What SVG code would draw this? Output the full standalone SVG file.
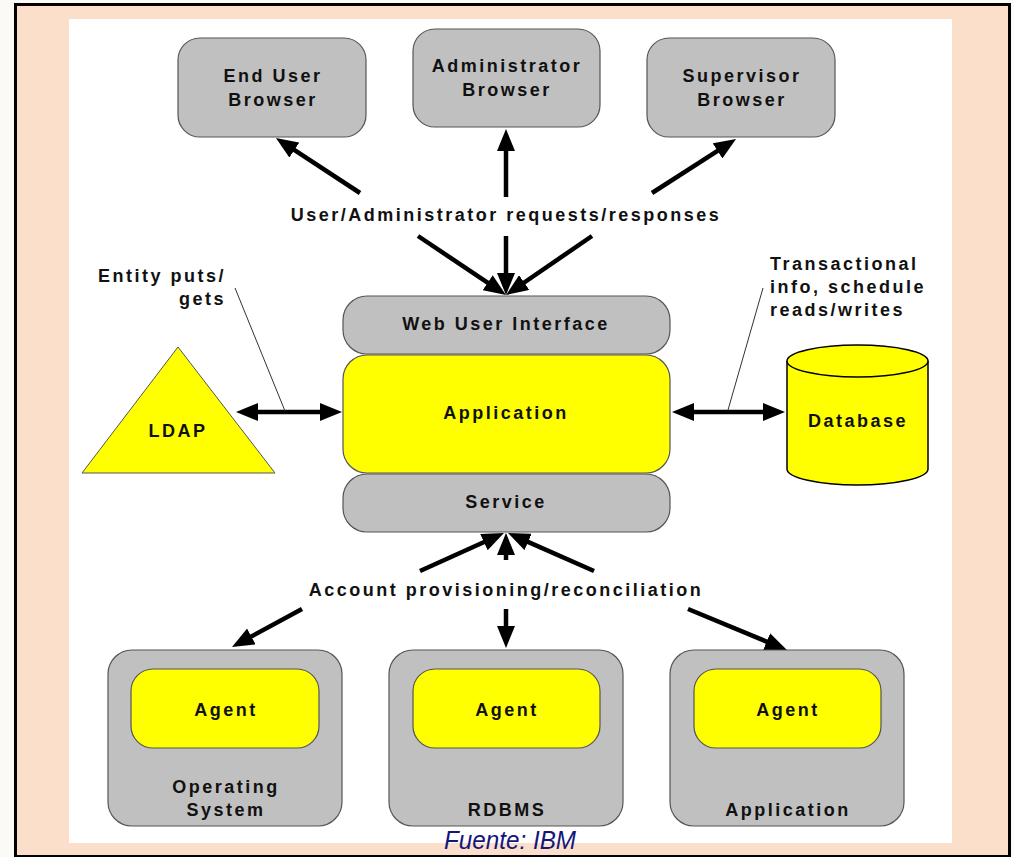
<svg xmlns="http://www.w3.org/2000/svg" width="1014" height="857" viewBox="0 0 1014 857">
<style>
  .t { font-family: "Liberation Sans", Arial, sans-serif; font-weight: bold; font-size: 18px; letter-spacing: 2.5px; fill: #111; text-anchor: middle; }
  .tl { font-family: "Liberation Sans", Arial, sans-serif; font-weight: bold; font-size: 18px; letter-spacing: 2.5px; fill: #111; }
  .gray { fill: #c0c0c0; stroke: #555; stroke-width: 1.2; }
  .yel { fill: #ffff00; stroke: #555; stroke-width: 1.2; }
  .arr { stroke: #000; stroke-width: 4.5; fill: none; marker-end: url(#ah); }
  .dbl { stroke: #000; stroke-width: 4.5; fill: none; marker-end: url(#ah); marker-start: url(#ah); }
  .lead { stroke: #333; stroke-width: 1; fill: none; }
</style>
<defs>
  <marker id="ah" markerUnits="userSpaceOnUse" markerWidth="22" markerHeight="18" refX="7" refY="9" orient="auto-start-reverse" viewBox="0 0 22 18">
    <path d="M0,0 L22,9 L0,18 z" fill="#000"/>
  </marker>
</defs>
<rect x="0" y="0" width="1014" height="857" fill="#fbfaf6"/>
<rect x="15.5" y="4.5" width="994" height="852" fill="#fbdfca" stroke="#000" stroke-width="3"/>
<rect x="69" y="19" width="883" height="824" fill="#ffffff"/>

<g id="connectors">
  <line class="arr" x1="360" y1="193" x2="288.5" y2="146.2"/>
  <line class="arr" x1="506" y1="197" x2="506" y2="144"/>
  <line class="arr" x1="652" y1="193" x2="723.4" y2="147.1"/>
  <line class="arr" x1="418" y1="236" x2="493.5" y2="286.6"/>
  <line class="arr" x1="506" y1="236" x2="506" y2="280"/>
  <line class="arr" x1="592" y1="236" x2="518.4" y2="286.5"/>
  <line class="arr" x1="420" y1="571" x2="490.3" y2="539.2"/>
  <line class="arr" x1="506" y1="560" x2="506" y2="548"/>
  <line class="arr" x1="594" y1="571" x2="521.7" y2="539.1"/>
  <line class="arr" x1="302" y1="609" x2="245.2" y2="639.8"/>
  <line class="arr" x1="506" y1="609" x2="506" y2="633"/>
  <line class="arr" x1="688" y1="609" x2="773.1" y2="644.3"/>
  <line class="dbl" x1="251" y1="412" x2="327" y2="412"/>
  <line class="dbl" x1="687" y1="412" x2="770" y2="412"/>
  <line class="lead" x1="235" y1="288" x2="285" y2="411"/>
  <line class="lead" x1="763" y1="288" x2="728" y2="410"/>
  <text class="t" x="506" y="221">User/Administrator requests/responses</text>
  <text class="t" x="506" y="596">Account provisioning/reconciliation</text>
  <text class="tl" x="226" y="282" text-anchor="end">Entity puts/</text>
  <text class="tl" x="226" y="305" text-anchor="end">gets</text>
  <text class="tl" x="770" y="270">Transactional</text>
  <text class="tl" x="770" y="293">info, schedule</text>
  <text class="tl" x="770" y="316">reads/writes</text>
</g>

<g id="end-user-browser">
  <rect class="gray" x="178" y="38" width="188" height="99" rx="22"/>
  <text class="t" x="273" y="82">End User</text>
  <text class="t" x="273" y="106">Browser</text>
</g>
<g id="administrator-browser">
  <rect class="gray" x="413" y="29" width="187" height="98" rx="22"/>
  <text class="t" x="507" y="72">Administrator</text>
  <text class="t" x="507" y="96">Browser</text>
</g>
<g id="supervisor-browser">
  <rect class="gray" x="647" y="38" width="188" height="99" rx="22"/>
  <text class="t" x="742" y="82">Supervisor</text>
  <text class="t" x="742" y="106">Browser</text>
</g>

<g id="web-user-interface">
  <rect class="gray" x="343" y="296" width="327" height="58" rx="24"/>
  <text class="t" x="506" y="330">Web User Interface</text>
</g>
<g id="application">
  <rect class="yel" x="343" y="355" width="327" height="118" rx="24"/>
  <text class="t" x="506" y="419">Application</text>
</g>
<g id="service">
  <rect class="gray" x="343" y="474" width="327" height="58" rx="24"/>
  <text class="t" x="506" y="508">Service</text>
</g>

<g id="ldap">
  <polygon points="178,347 275,473 82,473" fill="#ffff00" stroke="#555" stroke-width="1"/>
  <text class="t" x="178" y="437">LDAP</text>
</g>

<g id="database">
  <path d="M787,361 L787,469 A70.5,16 0 0 0 928,469 L928,361" fill="#ffff00" stroke="#000" stroke-width="1.5"/>
  <ellipse cx="857.5" cy="361" rx="70.5" ry="16" fill="#ffff00" stroke="#000" stroke-width="1.5"/>
  <text class="t" x="858" y="427">Database</text>
</g>

<g id="operating-system">
  <rect class="gray" x="108" y="650" width="234" height="176" rx="24"/>
  <rect class="yel" x="131" y="669" width="188" height="79" rx="22"/>
  <text class="t" x="226" y="716">Agent</text>
  <text class="t" x="226" y="793">Operating</text>
  <text class="t" x="226" y="816">System</text>
</g>
<g id="rdbms">
  <rect class="gray" x="389" y="650" width="234" height="176" rx="24"/>
  <rect class="yel" x="413" y="669" width="187" height="79" rx="22"/>
  <text class="t" x="507" y="716">Agent</text>
  <text class="t" x="507" y="816">RDBMS</text>
</g>
<g id="application-target">
  <rect class="gray" x="670" y="650" width="234" height="176" rx="24"/>
  <rect class="yel" x="694" y="669" width="187" height="79" rx="22"/>
  <text class="t" x="788" y="716">Agent</text>
  <text class="t" x="788" y="816">Application</text>
</g>

<text x="510" y="849" font-family="'Liberation Sans', Arial, sans-serif" font-style="italic" font-size="25" fill="#14177a" text-anchor="middle" transform="translate(510 0) scale(0.97 1) translate(-510 0)">Fuente: IBM</text>
</svg>
